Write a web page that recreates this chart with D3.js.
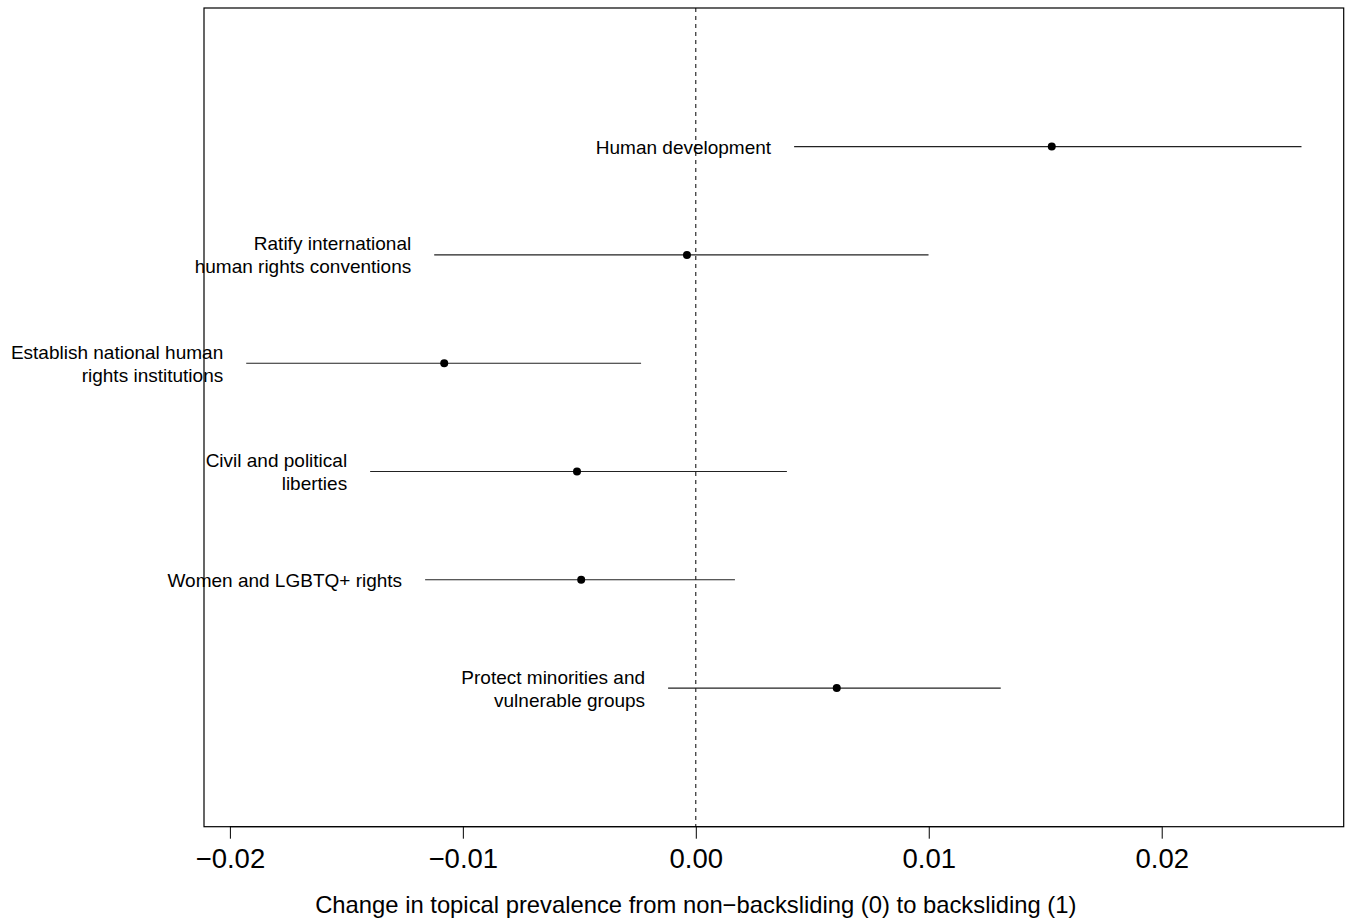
<!DOCTYPE html>
<html>
<head>
    <meta charset="utf-8">
    <title>Change in topical prevalence</title>
    <script src="https://d3js.org/d3.v7.min.js"></script>
    <style>
        body { margin: 0; background: #fff; }
        text { font-family: "Liberation Sans", Arial, sans-serif; }
    </style>
</head>
<body>
    <div id="chart"></div>
    <script>
        // topics from bottom (1) to top (6)
        var topics = [
            ["Protect minorities and", "vulnerable groups"],
            ["Women and LGBTQ+ rights"],
            ["Civil and political", "liberties"],
            ["Establish national human", "rights institutions"],
            ["Ratify international", "human rights conventions"],
            ["Human development"]
        ];
        var estimates = [0.00605, -0.00492, -0.00510, -0.01080, -0.00038, 0.01528];
        var lower = [-0.00119, -0.01162, -0.01398, -0.01930, -0.01123, 0.00422];
        var upper = [0.01309, 0.00168, 0.00391, -0.00235, 0.00999, 0.02600];
        var xTicks = [-0.02, -0.01, 0.00, 0.01, 0.02];

        var svgWidth = 1353;
        var svgHeight = 922;
        var plotLeft = 204, plotRight = 1343.7, plotTop = 8, plotBottom = 826.7;

        var svg = d3.select("#chart")
            .append("svg")
            .attr("width", svgWidth)
            .attr("height", svgHeight);

        // R style 4% padding around the data range
        var xmin = d3.min(lower), xmax = d3.max(upper);
        var pad = (xmax - xmin) * 0.04;
        var x = d3.scaleLinear()
            .domain([xmin - pad, xmax + pad])
            .range([plotLeft, plotRight]);

        var y = d3.scaleLinear()
            .domain([-0.28, topics.length + 1.28])
            .range([plotBottom, plotTop]);

        // zero reference line
        svg.append("line")
            .attr("x1", x(0)).attr("x2", x(0))
            .attr("y1", plotTop).attr("y2", plotBottom)
            .attr("stroke", "#000")
            .attr("stroke-width", 1)
            .attr("stroke-dasharray", "4,4");

        var rows = svg.selectAll(".row")
            .data(estimates)
            .enter()
            .append("g")
            .attr("class", "row");

        rows.append("line")
            .attr("x1", function(d, i) { return x(lower[i]); })
            .attr("x2", function(d, i) { return x(upper[i]); })
            .attr("y1", function(d, i) { return y(i + 1); })
            .attr("y2", function(d, i) { return y(i + 1); })
            .attr("stroke", "#222")
            .attr("stroke-width", 1.1);

        rows.append("circle")
            .attr("cx", function(d) { return x(d); })
            .attr("cy", function(d, i) { return y(i + 1); })
            .attr("r", 4)
            .attr("fill", "#000");

        rows.each(function(d, i) {
            var lines = topics[i];
            var tx = x(lower[i]) - 23;
            var ty = y(i + 1);
            var t = d3.select(this).append("text")
                .attr("text-anchor", "end")
                .attr("font-size", "19px")
                .attr("fill", "#000");
            lines.forEach(function(s, j) {
                t.append("tspan")
                    .attr("x", tx)
                    .attr("y", ty + (j - (lines.length - 1) / 2) * 23 + 7)
                    .text(s);
            });
        });

        // box
        svg.append("rect")
            .attr("x", plotLeft).attr("y", plotTop)
            .attr("width", plotRight - plotLeft).attr("height", plotBottom - plotTop)
            .attr("fill", "none")
            .attr("stroke", "#000")
            .attr("stroke-width", 1.2);

        // x axis
        var xAxis = d3.axisBottom(x)
            .tickValues(xTicks)
            .tickSize(12)
            .tickPadding(10)
            .tickFormat(function(d) {
                return d3.format(".2f")(d).replace("-", "\u2212");
            });

        var gx = svg.append("g")
            .attr("transform", "translate(0," + plotBottom + ")")
            .call(xAxis);
        gx.select(".domain")
            .attr("d", "M" + x(xTicks[0]) + ",0H" + x(xTicks[xTicks.length - 1]))
            .attr("stroke", "#000");
        gx.selectAll(".tick line").attr("stroke", "#000");
        gx.selectAll(".tick text")
            .attr("font-family", "Liberation Sans, Arial, sans-serif")
            .attr("font-size", "27.5px")
            .attr("fill", "#000");

        svg.append("text")
            .attr("x", (x(xTicks[0]) + x(xTicks[xTicks.length - 1])) / 2)
            .attr("y", 913)
            .attr("text-anchor", "middle")
            .attr("font-size", "23.8px")
            .attr("fill", "#000")
            .text("Change in topical prevalence from non\u2212backsliding (0) to backsliding (1)");
    </script>
</body>
</html>
